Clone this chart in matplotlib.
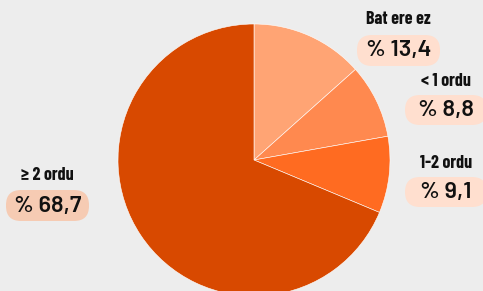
import matplotlib
matplotlib.use('Agg')
import matplotlib.pyplot as plt
from matplotlib.patches import FancyBboxPatch

W, H = 483, 291

labels = ['Bat ere ez', '< 1 ordu', '1-2 ordu', '≥ 2 ordu']
values = [13.4, 8.8, 9.1, 68.7]
value_texts = ['% 13,4', '% 8,8', '% 9,1', '% 68,7']
colors = ['#ffa474', '#ff894f', '#ff6b21', '#d84900']
pill_colors = ['#ffdfcf', '#ffdfcf', '#ffdfcf', '#f6cbb3']

# label / pill positions in pixels from top-left
label_pos = [(398, 20), (446, 81), (446, 163), (47, 176)]
pill_box = [(357, 35, 83, 31), (405, 95, 82, 30), (405, 177, 82, 30), (6, 190, 83, 31)]

fig = plt.figure(figsize=(W / 100, H / 100), dpi=100)
fig.patch.set_facecolor('#ededed')
ax = fig.add_axes([0, 0, 1, 1])
ax.set_facecolor('#ededed')

ax.pie(values, colors=colors, startangle=90, counterclock=False,
       center=(254, H - 160), radius=136,
       wedgeprops={'edgecolor': '#ffffff', 'linewidth': 0.4})

for lab, (x, y) in zip(labels, label_pos):
    ax.text(x, H - y, lab, ha='center', va='center', fontsize=13,
            fontweight='bold', family=['Barlow Condensed', 'DejaVu Sans'], color='#111111')

for txt, (x, y, w, h), pc in zip(value_texts, pill_box, pill_colors):
    ax.add_patch(FancyBboxPatch((x, H - y - h), w, h,
                                boxstyle='round,pad=0,rounding_size=15',
                                facecolor=pc, edgecolor='none'))
    ax.text(x + w / 2, H - y - h / 2, txt, ha='center', va='center',
            fontsize=17, fontweight=600, family=['Barlow', 'DejaVu Sans'], color='#111111')

ax.set_xlim(0, W)
ax.set_ylim(0, H)
ax.set_aspect('auto')
ax.axis('off')

fig.savefig('out.png', dpi=100, facecolor=fig.get_facecolor())
